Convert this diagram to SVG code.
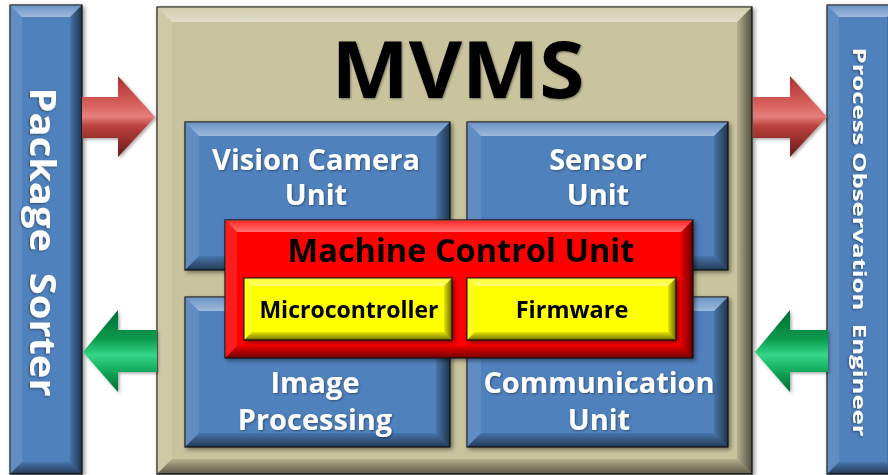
<svg xmlns="http://www.w3.org/2000/svg" width="888" height="475" viewBox="0 0 888 475">
  <defs>
    <style>
      .lbl { font-family: "Open Sans", "Noto Sans", "Liberation Sans", sans-serif; font-weight: bold; }
      .white { fill: #ffffff; filter: url(#txtShadow); }
      .black { fill: #000000; }
      .unit { font-size: 29px; text-anchor: middle; }
      .edge { stroke: #1a1a1a; stroke-width: 1.2; }
      .blue { fill: #4f81bd; }
      .tan { fill: #c9c39e; }
      .red { fill: #ff0000; }
      .yellow { fill: #ffff00; }
      .bt { fill: url(#gTop); }
      .bl { fill: #ffffff; opacity: 0.1; }
      .br { fill: url(#gRight); }
      .bb { fill: url(#gBottom); }
      .box { filter: url(#boxShadow); }
    </style>
    <linearGradient id="gTop" x1="0" y1="0" x2="0" y2="1">
      <stop offset="0" stop-color="#ffffff" stop-opacity="0.15"/>
      <stop offset="1" stop-color="#ffffff" stop-opacity="0.45"/>
    </linearGradient>
    <linearGradient id="gRight" x1="0" y1="0" x2="1" y2="0">
      <stop offset="0" stop-color="#000000" stop-opacity="0.1"/>
      <stop offset="1" stop-color="#000000" stop-opacity="0.6"/>
    </linearGradient>
    <linearGradient id="gBottom" x1="0" y1="0" x2="0" y2="1">
      <stop offset="0" stop-color="#000000" stop-opacity="0.1"/>
      <stop offset="1" stop-color="#000000" stop-opacity="0.55"/>
    </linearGradient>
    <linearGradient id="gRedArrow" x1="0" y1="0" x2="0" y2="1">
      <stop offset="0" stop-color="#a83431"/>
      <stop offset="0.35" stop-color="#d9605c"/>
      <stop offset="0.5" stop-color="#e5807c"/>
      <stop offset="0.62" stop-color="#b8403d"/>
      <stop offset="1" stop-color="#6a1a18"/>
    </linearGradient>
    <linearGradient id="gGreenArrow" x1="0" y1="0" x2="0" y2="1">
      <stop offset="0" stop-color="#006b30"/>
      <stop offset="0.35" stop-color="#0a9a4c"/>
      <stop offset="0.55" stop-color="#35d687"/>
      <stop offset="0.75" stop-color="#10a85a"/>
      <stop offset="1" stop-color="#006b30"/>
    </linearGradient>
    <filter id="boxShadow" x="-10%" y="-10%" width="130%" height="130%">
      <feDropShadow dx="2" dy="2" stdDeviation="2" flood-color="#000" flood-opacity="0.45"/>
    </filter>
    <filter id="txtShadow" x="-10%" y="-20%" width="120%" height="150%">
      <feDropShadow dx="1" dy="1" stdDeviation="0.8" flood-color="#000" flood-opacity="0.4"/>
    </filter>
    <filter id="arrowShadow" x="-10%" y="-10%" width="130%" height="130%">
      <feDropShadow dx="1.5" dy="1.5" stdDeviation="1.5" flood-color="#000" flood-opacity="0.35"/>
    </filter>
  </defs>

  <rect width="888" height="475" fill="#ffffff"/>

  <!-- left side bar -->
  <g id="package-sorter" class="box">
    <rect class="blue edge" x="10" y="5" width="72" height="469"/>
    <polygon class="bt" points="10,5 82,5 70,17 22,17"/>
    <polygon class="bl" points="10,5 22,17 22,462 10,474"/>
    <polygon class="br" points="82,5 82,474 70,462 70,17"/>
    <polygon class="bb" points="10,474 22,462 70,462 82,474"/>
    <text class="lbl white" transform="translate(30,242) rotate(90)" x="0" y="0" font-size="35" text-anchor="middle" style="white-space:pre" textLength="309" lengthAdjust="spacingAndGlyphs">Package  Sorter</text>
  </g>

  <!-- right side bar -->
  <g id="process-observation-engineer" class="box">
    <rect class="blue edge" x="827" y="5" width="72" height="469"/>
    <polygon class="bt" points="827,5 899,5 887,17 839,17"/>
    <polygon class="bl" points="827,5 839,17 839,462 827,474"/>
    <polygon class="br" points="899,5 899,474 887,462 887,17"/>
    <polygon class="bb" points="827,474 839,462 887,462 899,474"/>
    <text class="lbl white" transform="translate(853,242) rotate(90)" x="0" y="0" font-size="18" text-anchor="middle" style="white-space:pre" textLength="389" lengthAdjust="spacingAndGlyphs">Process Observation  Engineer</text>
  </g>

  <!-- main system frame -->
  <g id="mvms" class="box">
    <rect class="tan edge" x="157" y="7" width="595" height="467"/>
    <polygon class="bt" points="157,7 752,7 737,22 172,22"/>
    <polygon class="bl" points="157,7 172,22 172,459 157,474"/>
    <polygon class="br" points="752,7 752,474 737,459 737,22"/>
    <polygon class="bb" points="157,474 172,459 737,459 752,474"/>
    <text class="lbl black" x="458" y="98" font-size="79" text-anchor="middle" textLength="253" lengthAdjust="spacingAndGlyphs" filter="url(#txtShadow)">MVMS</text>
  </g>

  <g id="vision-camera-unit" class="box">
    <rect class="blue edge" x="185" y="122" width="265" height="148"/>
    <polygon class="bt" points="185,122 450,122 436,136 199,136"/>
    <polygon class="bl" points="185,122 199,136 199,256 185,270"/>
    <polygon class="br" points="450,122 450,270 436,256 436,136"/>
    <polygon class="bb" points="185,270 199,256 436,256 450,270"/>
    <text class="lbl white unit" x="316" y="170">Vision Camera</text>
    <text class="lbl white unit" x="316" y="205">Unit</text>
  </g>

  <g id="sensor-unit" class="box">
    <rect class="blue edge" x="467" y="122" width="261" height="148"/>
    <polygon class="bt" points="467,122 728,122 714,136 481,136"/>
    <polygon class="bl" points="467,122 481,136 481,256 467,270"/>
    <polygon class="br" points="728,122 728,270 714,256 714,136"/>
    <polygon class="bb" points="467,270 481,256 714,256 728,270"/>
    <text class="lbl white unit" x="598" y="170">Sensor</text>
    <text class="lbl white unit" x="598" y="205">Unit</text>
  </g>

  <g id="image-processing" class="box">
    <rect class="blue edge" x="185" y="297" width="265" height="150"/>
    <polygon class="bt" points="185,297 450,297 436,311 199,311"/>
    <polygon class="bl" points="185,297 199,311 199,433 185,447"/>
    <polygon class="br" points="450,297 450,447 436,433 436,311"/>
    <polygon class="bb" points="185,447 199,433 436,433 450,447"/>
    <text class="lbl white unit" x="315" y="393">Image</text>
    <text class="lbl white unit" x="315" y="430">Processing</text>
  </g>

  <g id="communication-unit" class="box">
    <rect class="blue edge" x="467" y="297" width="261" height="150"/>
    <polygon class="bt" points="467,297 728,297 714,311 481,311"/>
    <polygon class="bl" points="467,297 481,311 481,433 467,447"/>
    <polygon class="br" points="728,297 728,447 714,433 714,311"/>
    <polygon class="bb" points="467,447 481,433 714,433 728,447"/>
    <text class="lbl white unit" x="599" y="393">Communication</text>
    <text class="lbl white unit" x="599" y="430">Unit</text>
  </g>

  <g id="machine-control-unit" class="box">
    <rect class="red edge" x="225" y="220" width="468" height="138"/>
    <polygon class="bt" points="225,220 693,220 681,232 237,232"/>
    <polygon class="bl" points="225,220 237,232 237,346 225,358"/>
    <polygon class="br" points="693,220 693,358 681,346 681,232"/>
    <polygon class="bb" points="225,358 237,346 681,346 693,358"/>
    <text class="lbl black" x="461" y="262" font-size="32.5" text-anchor="middle">Machine Control Unit</text>
  </g>

  <g id="microcontroller" class="box">
    <rect class="yellow edge" x="244" y="278" width="208" height="62"/>
    <polygon class="bt" points="244,278 452,278 444,286 252,286"/>
    <polygon class="bl" points="244,278 252,286 252,332 244,340"/>
    <polygon class="br" points="452,278 452,340 444,332 444,286"/>
    <polygon class="bb" points="244,340 252,332 444,332 452,340"/>
    <text class="lbl black" x="349" y="318" font-size="23" text-anchor="middle">Microcontroller</text>
  </g>

  <g id="firmware" class="box">
    <rect class="yellow edge" x="467" y="278" width="209" height="62"/>
    <polygon class="bt" points="467,278 676,278 668,286 475,286"/>
    <polygon class="bl" points="467,278 475,286 475,332 467,340"/>
    <polygon class="br" points="676,278 676,340 668,332 668,286"/>
    <polygon class="bb" points="467,340 475,332 668,332 676,340"/>
    <text class="lbl black" x="572" y="318" font-size="23.5" text-anchor="middle">Firmware</text>
  </g>

  <!-- block arrows between the side bars and the frame -->
  <g id="connectors" filter="url(#arrowShadow)">
    <polygon fill="url(#gRedArrow)" points="82,97 118,97 118,76 155,117 118,157 118,138 82,138"/>
    <polygon fill="url(#gRedArrow)" points="753,97 790,97 790,76 827,117 790,157 790,138 753,138"/>
    <polygon fill="url(#gGreenArrow)" points="157,330 118,330 118,310 83,352 118,392 118,372 157,372"/>
    <polygon fill="url(#gGreenArrow)" points="828,330 790,330 790,310 755,352 790,392 790,372 828,372"/>
  </g>
</svg>
